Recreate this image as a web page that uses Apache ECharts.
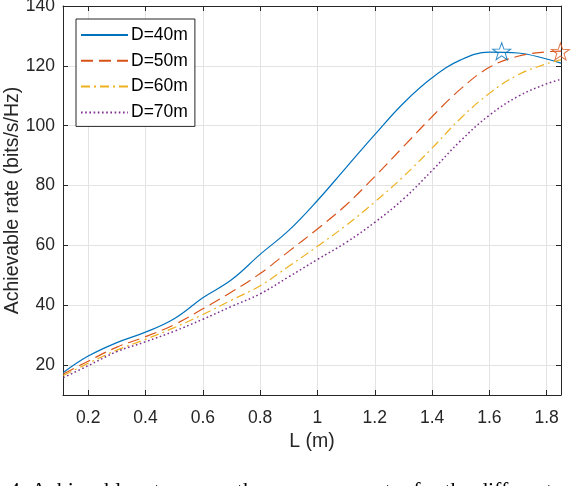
<!DOCTYPE html>
<html>
<head>
<meta charset="utf-8">
<script src="https://cdn.jsdelivr.net/npm/echarts@6/dist/echarts.min.js"></script>
<style>
html,body{margin:0;padding:0;background:#fff;}
#chart{width:578px;height:486px;}
</style>
</head>
<body>
<div id="chart"></div>
<script>
// L (m) sample positions
const L = [0.113, 0.2, 0.3, 0.4, 0.5, 0.6, 0.7, 0.8, 0.9, 1.0, 1.1, 1.2, 1.3, 1.4, 1.5, 1.6, 1.7, 1.8, 1.85];
// Achievable rate (bits/s/Hz)
const D40 = [17.5, 23.0, 27.5, 31.0, 35.5, 42.5, 48.5, 57.0, 65.0, 75.0, 86.0, 97.0, 107.5, 116.0, 122.0, 124.6, 124.3, 122.3, 120.9];
const D50 = [17.0, 21.3, 26.0, 29.5, 33.5, 38.8, 44.4, 50.6, 58.0, 65.5, 73.5, 83.0, 93.0, 103.0, 112.3, 119.5, 123.2, 124.7, 124.9];
const D60 = [16.5, 20.6, 25.0, 28.6, 32.5, 36.9, 41.7, 46.5, 53.0, 59.7, 66.7, 74.5, 83.0, 92.5, 102.5, 110.8, 117.0, 120.7, 122.0];
const D70 = [15.8, 19.8, 24.5, 27.8, 31.3, 35.3, 39.6, 43.8, 49.5, 55.3, 61.0, 67.7, 75.5, 85.0, 95.0, 103.5, 109.8, 114.0, 115.5];
// maxima markers
const starL = [1.643, 1.848];
const starRate = [124.9, 124.8];
const seriesNames = ['D=40m', 'D=50m', 'D=60m', 'D=70m'];
const caption = '4. Achievable rate versus the array parameter for the different';

const colors = ['#0072BD', '#D95319', '#EDB120', '#7E2F8E'];
const dashes = ['solid', [12, 6], [9, 4, 2, 4], [1.6, 2.6]];
const widths = [1.2, 1.2, 1.2, 1.5];
const allData = [D40, D50, D60, D70];
const FONT = '"Liberation Sans", Arial, Helvetica, sans-serif';
const TXT = '#262626';
const starPath = 'path://M0,-10L2.35,-3.24L9.51,-3.09L3.8,1.24L5.88,8.09L0,4L-5.88,8.09L-3.8,1.24L-9.51,-3.09L-2.35,-3.24Z';

const lineSeries = allData.map((vals, i) => ({
  name: seriesNames[i],
  type: 'line',
  data: L.map((x, k) => [x, vals[k]]),
  smooth: 0.4,
  symbol: 'none',
  lineStyle: { color: colors[i], width: widths[i], type: dashes[i] },
  itemStyle: { color: colors[i] },
  z: 3
}));

const starSeries = {
  type: 'scatter',
  data: starL.map((x, k) => ({
    value: [x, starRate[k]],
    itemStyle: { color: 'rgba(255,255,255,0)', borderColor: colors[k], borderWidth: 1 }
  })),
  symbol: starPath,
  symbolSize: [18, 17],
  z: 4,
  silent: true
};

const chart = echarts.init(document.getElementById('chart'), null, { renderer: 'canvas' });

const labelFmt = v => {
  const r = Math.round(v * 10) / 10;
  if (Math.abs(v - r) > 1e-6) return '';
  if (Math.abs((r * 10) % 2) > 1e-6) return '';
  return String(r);
};

chart.setOption({
  animation: false,
  backgroundColor: '#fff',
  grid: { left: 63, right: 17, top: 6, bottom: 91, containLabel: false, outerBoundsMode: 'none' },
  legend: {
    orient: 'vertical',
    left: 76,
    top: 19,
    data: seriesNames,
    padding: [7, 7, 5, 4],
    itemGap: 7.8,
    itemWidth: 47,
    itemHeight: 14,
    backgroundColor: '#fff',
    borderColor: TXT,
    borderWidth: 1,
    borderRadius: 0,
    itemStyle: { opacity: 0 },
    textStyle: { fontFamily: FONT, fontSize: 17.5, color: '#000', padding: [0, 0, 0, -2] }
  },
  xAxis: [{
    type: 'value',
    min: 0.112,
    max: 1.85,
    splitNumber: 9,
    name: 'L (m)',
    nameLocation: 'middle',
    nameGap: 37,
    nameMoveOverlap: false,
    nameTextStyle: { fontFamily: FONT, fontSize: 19.5, color: TXT },
    axisLine: { show: true, onZero: false, lineStyle: { color: TXT, width: 1 } },
    axisTick: { show: true, inside: true, length: 5, lineStyle: { color: TXT } },
    axisLabel: { show: true, margin: 14, fontFamily: FONT, fontSize: 17.5, color: TXT, showMinLabel: false, showMaxLabel: false, formatter: labelFmt },
    splitLine: { show: true, lineStyle: { color: '#e3e3e3', width: 1 } }
  }, {
    type: 'value',
    position: 'top',
    min: 0.112,
    max: 1.85,
    splitNumber: 9,
    axisLine: { show: true, onZero: false, lineStyle: { color: TXT, width: 1 } },
    axisTick: { show: true, inside: true, length: 5, lineStyle: { color: TXT } },
    axisLabel: { show: false },
    splitLine: { show: false }
  }],
  yAxis: [{
    type: 'value',
    min: 10,
    max: 140,
    splitNumber: 7,
    name: 'Achievable rate (bits/s/Hz)',
    nameLocation: 'middle',
    nameGap: 40,
    nameMoveOverlap: false,
    nameTextStyle: { fontFamily: FONT, fontSize: 19.5, color: TXT },
    axisLine: { show: true, onZero: false, lineStyle: { color: TXT, width: 1 } },
    axisTick: { show: true, inside: true, length: 5, lineStyle: { color: TXT } },
    axisLabel: { show: true, margin: 8, fontFamily: FONT, fontSize: 17.5, color: TXT, showMinLabel: false, formatter: v => (v % 20 === 0 ? String(v) : '') },
    splitLine: { show: true, lineStyle: { color: '#e3e3e3', width: 1 } }
  }, {
    type: 'value',
    position: 'right',
    min: 10,
    max: 140,
    splitNumber: 7,
    axisLine: { show: true, onZero: false, lineStyle: { color: TXT, width: 1 } },
    axisTick: { show: true, inside: true, length: 5, lineStyle: { color: TXT } },
    axisLabel: { show: false },
    splitLine: { show: false }
  }],
  graphic: [{
    type: 'text',
    left: 9,
    top: 480,
    silent: true,
    style: { text: caption, font: '22px "Liberation Serif", "Times New Roman", serif', fill: '#000' }
  }],
  series: lineSeries.concat([starSeries])
});
</script>
</body>
</html>
